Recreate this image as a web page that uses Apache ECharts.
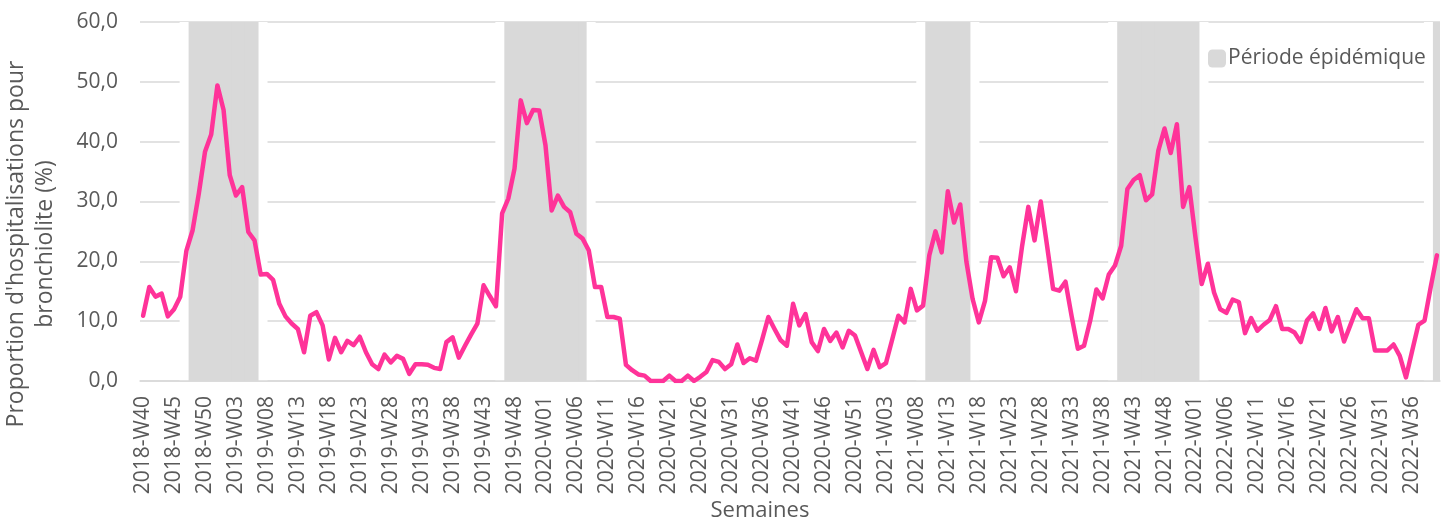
<!DOCTYPE html>
<html>
<head>
<meta charset="utf-8">
<script src="https://cdn.jsdelivr.net/npm/echarts@6/dist/echarts.min.js"></script>
<style>
html,body{margin:0;padding:0;background:#fff;}
#chart{width:1448px;height:523px;}
</style>
</head>
<body>
<div id="chart"></div>
<script>
// ISO weeks per year for the category axis (2018-W40 .. 2022-W40)
const startYear = 2018, startWeek = 40, endYear = 2022, endWeek = 40;
const weeksInYear = {2018: 52, 2019: 52, 2020: 53, 2021: 52, 2022: 52};
const categories = [];
for (let y = startYear; y <= endYear; y++) {
  const w0 = (y === startYear) ? startWeek : 1;
  const w1 = (y === endYear) ? endWeek : weeksInYear[y];
  for (let w = w0; w <= w1; w++) categories.push(y + '-W' + String(w).padStart(2, '0'));
}

// Proportion d'hospitalisations pour bronchiolite (%), one value per week
const proportion = [
  10.9, 15.7, 14.1, 14.6, 10.8, 12.0, 14.1, 21.8, 25.2, 31.3,
  38.3, 41.2, 49.4, 45.3, 34.4, 31.0, 32.4, 24.9, 23.5, 17.8,
  17.9, 16.9, 12.9, 10.8, 9.6, 8.7, 4.8, 10.9, 11.5, 9.3,
  3.6, 7.2, 4.8, 6.7, 6.0, 7.4, 4.8, 2.8, 2.0, 4.4,
  3.1, 4.2, 3.7, 1.2, 2.8, 2.8, 2.7, 2.2, 2.0, 6.5,
  7.3, 3.9, 5.9, 7.8, 9.6, 16.0, 14.2, 12.5, 28.0, 30.5,
  35.5, 46.9, 43.1, 45.3, 45.2, 39.4, 28.5, 31.0, 29.1, 28.2,
  24.6, 23.8, 21.8, 15.7, 15.7, 10.7, 10.7, 10.4, 2.7, 1.8,
  1.1, 0.9, 0.0, 0.0, 0.0, 0.9, 0.0, 0.0, 0.9, 0.0,
  0.7, 1.5, 3.5, 3.2, 2.0, 2.8, 6.1, 3.0, 3.8, 3.4,
  6.9, 10.7, 8.7, 6.8, 5.9, 12.9, 9.3, 11.2, 6.5, 5.0,
  8.7, 6.7, 8.1, 5.6, 8.4, 7.6, 4.8, 2.0, 5.2, 2.3,
  3.0, 6.9, 10.9, 9.8, 15.4, 11.8, 12.6, 21.0, 25.0, 21.5,
  31.7, 26.5, 29.5, 19.9, 13.7, 9.8, 13.4, 20.7, 20.6, 17.5,
  19.0, 15.0, 22.6, 29.1, 23.5, 30.0, 22.8, 15.4, 15.1, 16.6,
  10.8, 5.4, 5.9, 10.1, 15.3, 13.8, 17.8, 19.3, 22.6, 32.1,
  33.6, 34.4, 30.2, 31.2, 38.5, 42.2, 38.1, 42.9, 29.1, 32.4,
  24.0, 16.2, 19.6, 14.8, 12.0, 11.4, 13.6, 13.2, 8.0, 10.5,
  8.4, 9.4, 10.2, 12.5, 8.7, 8.7, 8.1, 6.5, 10.1, 11.3,
  8.7, 12.2, 8.3, 10.7, 6.6, 9.3, 12.0, 10.5, 10.5, 5.1,
  5.1, 5.1, 6.1, 4.2, 0.6, 5.0, 9.4, 10.1, 15.7, 21.0
];

// Epidemic periods (first week, last week)
const epidemicPeriods = [
  ['2018-W48', '2019-W06'],
  ['2019-W47', '2020-W07'],
  ['2021-W10', '2021-W16'],
  ['2021-W41', '2022-W01'],
  ['2022-W40', '2022-W40']
];

const yTicks = [0, 10, 20, 30, 40, 50, 60];
const bandTop = 60;

const epidemicData = categories.map(() => null);
epidemicPeriods.forEach(([a, b]) => {
  const i0 = categories.indexOf(a), i1 = categories.indexOf(b);
  for (let i = i0; i <= i1; i++) epidemicData[i] = bandTop;
});

const FONT = '"Open Sans", "Noto Sans", sans-serif';
const TXT = '#595959';

const chart = echarts.init(document.getElementById('chart'), null, {renderer: 'canvas'});
chart.setOption({
  animation: false,
  backgroundColor: '#fff',
  textStyle: {fontFamily: FONT},
  grid: {left: 140, right: 8, top: 22, bottom: 142, containLabel: false, outerBoundsMode: 'none'},
  legend: {
    data: ['Période épidémique'],
    left: 1203, top: 43,
    icon: 'roundRect', itemWidth: 18, itemHeight: 18,
    selectedMode: false,
    textStyle: {fontFamily: FONT, fontSize: 21, color: TXT, padding: [0, 0, 0, -3]}
  },
  xAxis: [{
    type: 'category',
    data: categories,
    boundaryGap: true,
    z: 2,
    axisLine: {lineStyle: {color: '#d9d9d9', width: 1.5}},
    axisTick: {show: false},
    axisLabel: {
      interval: 4, rotate: 90, margin: 15,
      fontFamily: FONT, fontSize: 21, color: TXT
    },
    splitLine: {show: false}
  }, {
    type: 'category',
    data: categories,
    boundaryGap: true,
    show: false
  }],
  yAxis: {
    type: 'value',
    min: yTicks[0], max: yTicks[yTicks.length - 1], interval: 10,
    axisLine: {show: false},
    axisTick: {show: false},
    axisLabel: {
      margin: 22, fontFamily: FONT, fontSize: 21, color: TXT,
      formatter: v => v.toFixed(1).replace('.', ',')
    },
    splitLine: {lineStyle: {color: '#d9d9d9', width: 1.5}}
  },
  series: [{
    name: 'halo',
    type: 'bar',
    xAxisIndex: 1,
    data: epidemicData,
    barWidth: 26,
    itemStyle: {color: '#ffffff'},
    silent: true,
    z: 1
  }, {
    name: 'Période épidémique',
    type: 'bar',
    data: epidemicData,
    barWidth: 8,
    itemStyle: {color: '#d9d9d9'},
    z: 3
  }, {
    name: 'Proportion',
    type: 'line',
    data: proportion,
    symbol: 'none',
    lineStyle: {color: '#ff3399', width: 4.5, join: 'round', cap: 'round'},
    itemStyle: {color: '#ff3399'},
    z: 4
  }],
  graphic: [{
    type: 'text',
    x: 31, y: 244,
    rotation: Math.PI / 2,
    style: {
      text: "Proportion d'hospitalisations pour\nbronchiolite (%)",
      fontFamily: FONT, fontSize: 23, fill: TXT,
      align: 'center', verticalAlign: 'middle', lineHeight: 29
    }
  }, {
    type: 'text',
    x: 760, y: 511,
    style: {
      text: 'Semaines',
      fontFamily: FONT, fontSize: 22, fill: TXT,
      align: 'center', verticalAlign: 'middle'
    }
  }]
});
</script>
</body>
</html>
